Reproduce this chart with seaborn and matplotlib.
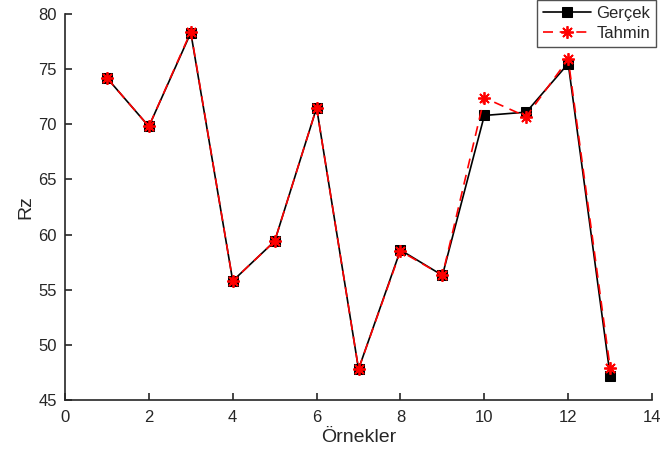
import numpy as np
import pandas as pd
import matplotlib
matplotlib.use("Agg")
import matplotlib.pyplot as plt
import seaborn as sns

ornek = [1, 2, 3, 4, 5, 6, 7, 8, 9, 10, 11, 12, 13]
gercek = [74.2, 69.8, 78.3, 55.8, 59.4, 71.5, 47.8, 58.6, 56.3, 70.8, 71.1, 75.5, 47.2]
tahmin = [74.2, 69.8, 78.4, 55.8, 59.4, 71.5, 47.8, 58.5, 56.3, 72.4, 70.7, 75.9, 47.9]

df = pd.DataFrame({"Örnekler": ornek, "Gerçek": gercek, "Tahmin": tahmin})

sns.set_style("white")
plt.rcParams['font.family'] = ['Liberation Sans', 'DejaVu Sans']

fig = plt.figure(figsize=(6.6, 4.66), dpi=100)
ax = fig.add_axes([0.0985, 0.1416, 0.8895, 0.8284])

sns.lineplot(data=df, x="Örnekler", y="Gerçek", ax=ax, color='black', lw=1.2,
             marker='s', markersize=6.5, markeredgecolor='black', label='Gerçek')
sns.lineplot(data=df, x="Örnekler", y="Tahmin", ax=ax, color='red', lw=1.2,
             linestyle=(0, (6, 4)), marker='*', markersize=9, markeredgecolor='red',
             label='Tahmin')
# MATLAB-like asterisk
for ln in ax.lines[1:]:
    ln.set_marker((8, 2, 0))
    ln.set_markeredgewidth(1.3)

ax.set_xlim(0, 14)
ax.set_ylim(45, 80)
ax.set_xticks(np.arange(0, 15, 2))
ax.set_yticks(np.arange(45, 81, 5))
ax.set_xlabel("Örnekler", fontsize=14, color='#262626', labelpad=3)
ax.set_ylabel("Rz", fontsize=14, color='#262626', labelpad=3)
ax.tick_params(direction='in', length=5, width=1.2, labelsize=12, colors='#262626',
               left=True, bottom=True)
ax.tick_params(axis='x', pad=7)
ax.tick_params(axis='y', pad=6)
for s in ['top', 'right']:
    ax.spines[s].set_visible(False)
for s in ['left', 'bottom']:
    ax.spines[s].set_color('#262626')
    ax.spines[s].set_linewidth(1.2)

leg = ax.legend(loc='upper right', bbox_to_anchor=(1.007, 1.035), fontsize=12,
                frameon=True, fancybox=False, edgecolor='#262626', borderpad=0.35,
                handlelength=2.9, handletextpad=0.3, labelspacing=0.3, borderaxespad=0)
leg.get_frame().set_linewidth(1)

plt.savefig("out.png", dpi=100)
